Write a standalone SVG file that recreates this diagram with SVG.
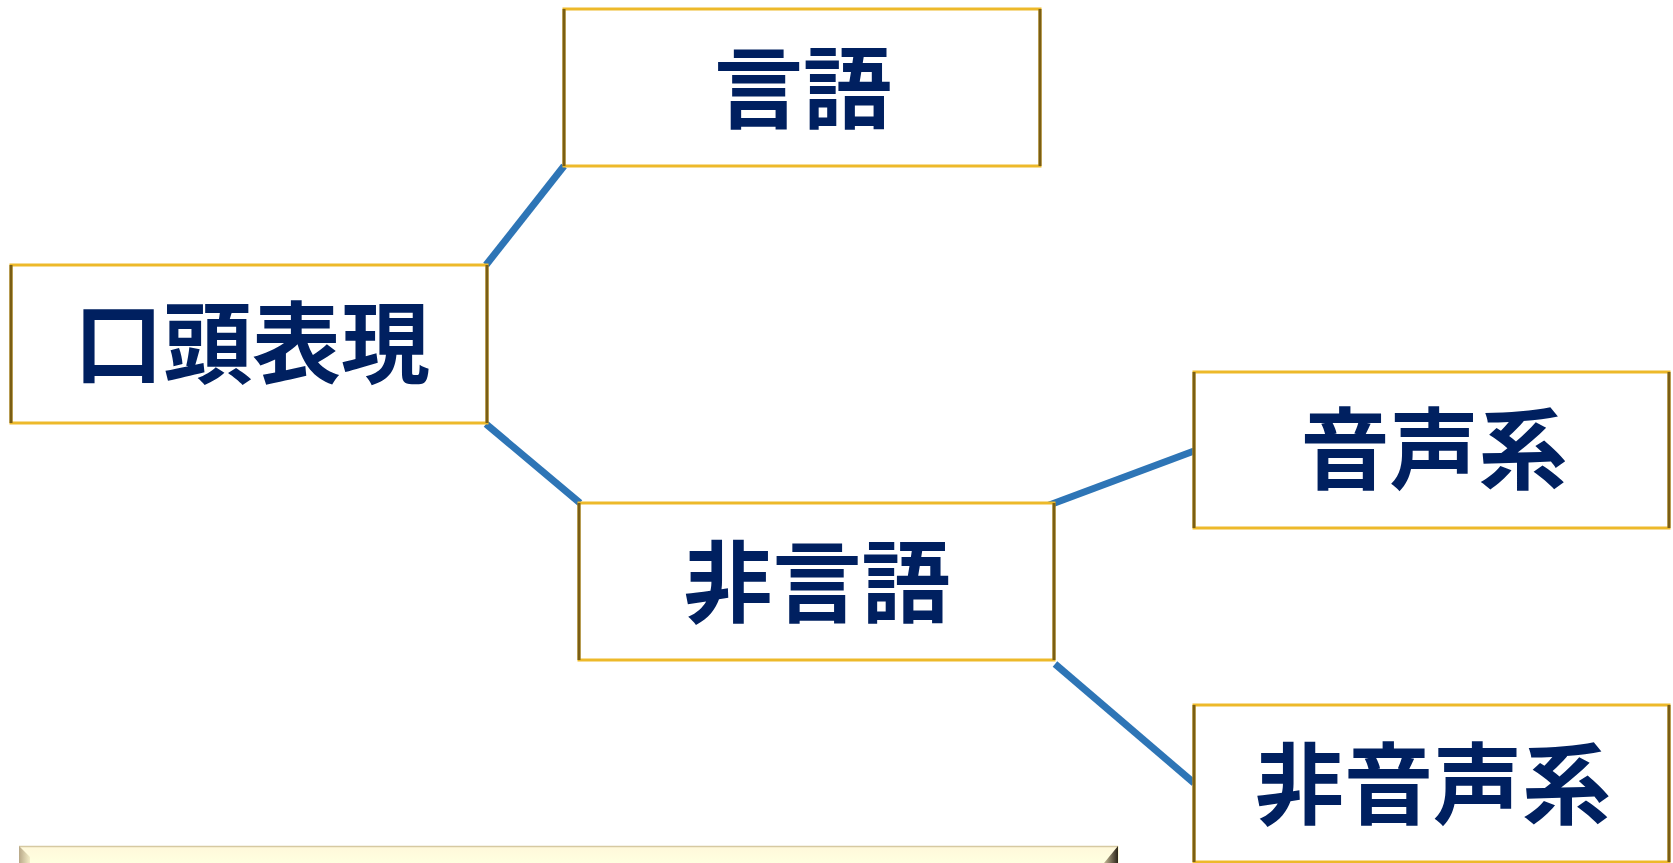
<svg xmlns="http://www.w3.org/2000/svg" width="1673" height="863" viewBox="0 0 1673 863">
<style>
.box{fill:#fff;stroke:#EDB92A;stroke-width:3}
.side{stroke:#7A5E14;stroke-width:3}
.lbl{font-family:"Noto Sans CJK JP","Noto Sans CJK SC",sans-serif;font-weight:bold;font-size:89px;fill:#002060;text-anchor:middle}
.conn{stroke:#2E75B6;stroke-width:7;fill:none}
</style>
<defs>
<linearGradient id="barg" x1="0" y1="0" x2="0" y2="1">
<stop offset="0" stop-color="#FFF8DA"/>
<stop offset="1" stop-color="#FFFFE0"/>
</linearGradient>
<linearGradient id="rbev" x1="0" y1="0" x2="1" y2="0">
<stop offset="0" stop-color="#C8BC98"/>
<stop offset="1" stop-color="#2A2418"/>
</linearGradient>
<linearGradient id="lbev" x1="0" y1="0" x2="1" y2="0">
<stop offset="0" stop-color="#B8A888"/>
<stop offset="1" stop-color="#F4EEC8"/>
</linearGradient>
</defs>
<rect width="1673" height="863" fill="#fff"/>
<g id="connectors">
<line class="conn" x1="486" y1="265" x2="564" y2="166"/>
<line class="conn" x1="486" y1="424" x2="580" y2="503"/>
<line class="conn" x1="1048" y1="505.5" x2="1194" y2="451"/>
<line class="conn" x1="1055" y1="664" x2="1194" y2="783"/>
</g>
<g id="node-gengo">
<rect class="box" x="564" y="9" width="476" height="157"/>
<line class="side" x1="564" y1="9" x2="564" y2="166"/>
<line class="side" x1="1040" y1="9" x2="1040" y2="166"/>
<text class="lbl" x="803" y="121">言語</text>
</g>
<g id="node-koutou">
<rect class="box" x="11" y="265" width="476" height="158"/>
<line class="side" x1="11" y1="265" x2="11" y2="423"/>
<line class="side" x1="487" y1="265" x2="487" y2="423"/>
<text class="lbl" x="252" y="376">口頭表現</text>
</g>
<g id="node-higengo">
<rect class="box" x="579" y="503" width="475" height="157"/>
<line class="side" x1="579" y1="503" x2="579" y2="660"/>
<line class="side" x1="1054" y1="503" x2="1054" y2="660"/>
<text class="lbl" x="817" y="615">非言語</text>
</g>
<g id="node-onsei">
<rect class="box" x="1194" y="372" width="475" height="156"/>
<line class="side" x1="1194" y1="372" x2="1194" y2="528"/>
<line class="side" x1="1669" y1="372" x2="1669" y2="528"/>
<text class="lbl" x="1434" y="482">音声系</text>
</g>
<g id="node-hionsei">
<rect class="box" x="1194" y="705" width="475" height="157"/>
<line class="side" x1="1194" y1="705" x2="1194" y2="862"/>
<line class="side" x1="1669" y1="705" x2="1669" y2="862"/>
<text class="lbl" x="1433" y="817">非音声系</text>
</g>
<g id="bottom-bar">
<rect x="19" y="846" width="1100" height="17" fill="url(#barg)"/>
<line x1="19" y1="846.5" x2="1118" y2="846.5" stroke="#D6C9A2" stroke-width="1.5"/>
<polygon points="19,846 30,857 30,863 19,863" fill="url(#lbev)"/>
<polygon points="1118,846 1118,863 1104,863" fill="url(#rbev)"/>
</g>
</svg>
